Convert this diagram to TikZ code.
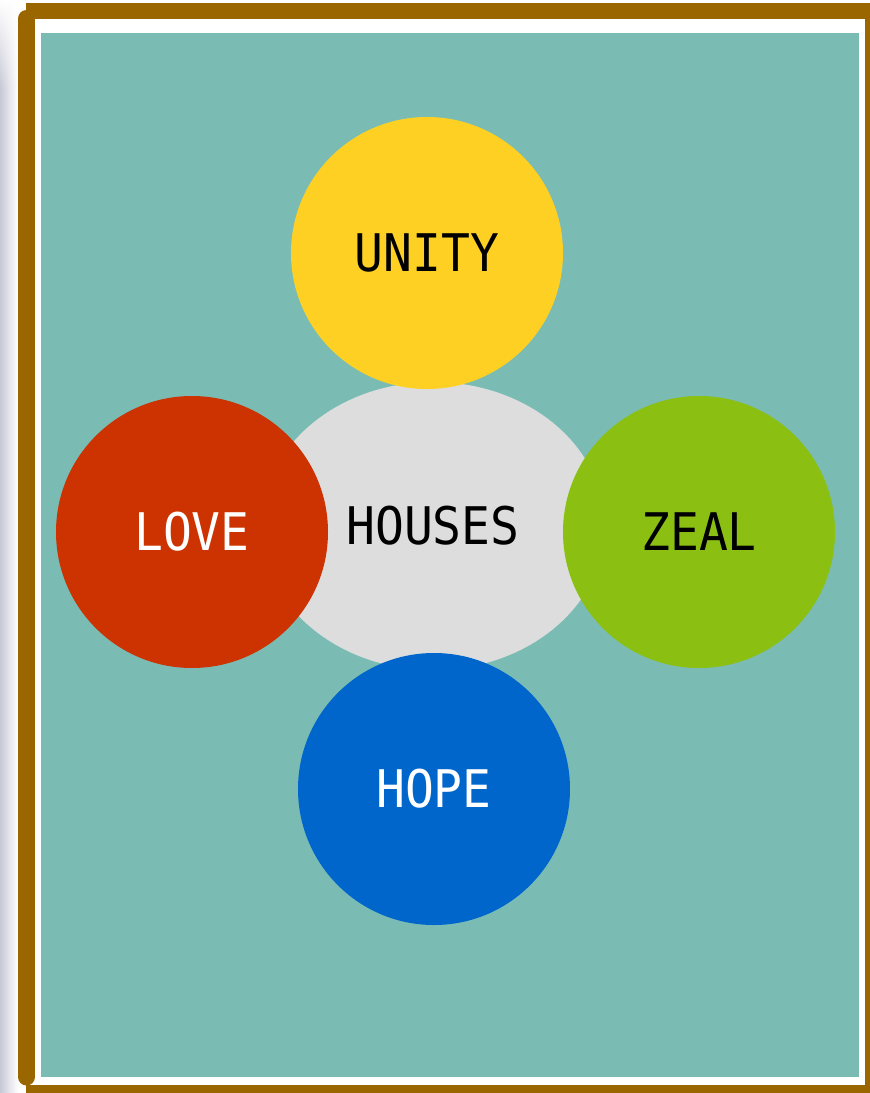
\documentclass[tikz,border=0pt]{standalone}
\usepackage{fontspec}
\newfontfamily\labelfont{DejaVu Sans Mono}
\usetikzlibrary{shapes.geometric,fadings}
\definecolor{frameBrown}{HTML}{996600}
\definecolor{bgTeal}{HTML}{7ABCB3}
\definecolor{cYellow}{HTML}{FDD023}
\definecolor{cRed}{HTML}{CC3300}
\definecolor{cGreen}{HTML}{8BBF12}
\definecolor{cBlue}{HTML}{0066CC}
\definecolor{cGrey}{HTML}{DDDDDD}
\definecolor{shadowGrey}{HTML}{C8C8D6}
\newcommand\tallword[1]{\scalebox{1}[1.08]{#1}}
\tikzset{
  ring/.style={circle, minimum size=272pt, inner sep=0pt, draw=none,
    font=\labelfont\fontsize{48}{58}\selectfont},
  hub/.style={ellipse, minimum width=344pt, minimum height=288pt, inner sep=0pt,
    draw=none, fill=cGrey, font=\labelfont\fontsize{48}{58}\selectfont},
}
\begin{document}
\begin{tikzpicture}[x=1pt,y=-1pt]
\useasboundingbox (0,0) rectangle (870,1093);
\fill[white] (0,0) rectangle (870,1093);
% left shadow
\shade[left color=shadowGrey, right color=white] (0,0) rectangle (18,1093);
\fill[white, path fading=south] (0,0) rectangle (18,90);
% frame
\fill[frameBrown] (26,3) rectangle (870,18.5);
\fill[frameBrown] (865,3) rectangle (870,1093);
\fill[frameBrown] (26,1085) rectangle (870,1093);
\draw[frameBrown, line width=17pt, line cap=round] (26.5,18.5) -- (26.5,1077);
\fill[white] (35,18.5) rectangle (865,1085);
\fill[bgTeal] (41,33) rectangle (859,1077);
% shapes
\node[hub] (houses) at (433,526) {\tallword{HOUSES}};
\node[ring, fill=cYellow, text=black] (unity) at (427,253) {\tallword{UNITY}};
\node[ring, fill=cRed, text=white] (love) at (192,532) {\tallword{LOVE}};
\node[ring, fill=cGreen, text=black] (zeal) at (699,532) {\tallword{ZEAL}};
\node[ring, fill=cBlue, text=white] (hope) at (434,789) {\tallword{HOPE}};
\end{tikzpicture}
\end{document}
